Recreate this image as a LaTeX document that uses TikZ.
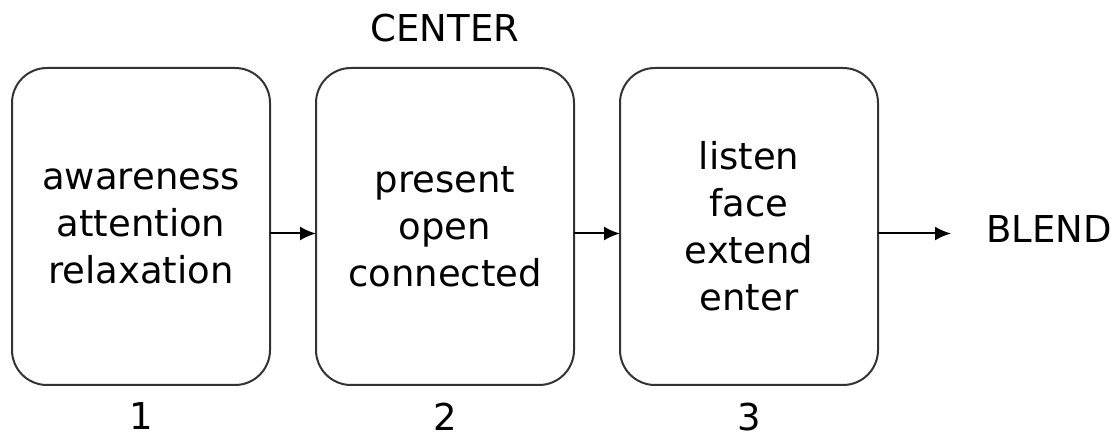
\documentclass[tikz,border=0pt]{standalone}
\usepackage{fontspec}
\setsansfont{DejaVu Sans}
\usetikzlibrary{arrows.meta,positioning}
\tikzstyle{every picture}+=[font=\sffamily]

\begin{document}
\begin{tikzpicture}
	[x=1pt, y=-1pt, font=\sffamily\fontsize{37}{47}\selectfont, inner sep=0pt, outer sep=0pt,
	stage/.style	= {draw, rectangle, rounded corners=35pt, line width=2pt, black!80, text=black, align=center, minimum width=258pt, minimum height=317pt},
	flow/.style		= {-{Latex[length=16pt,width=14pt]}, line width=2pt, black},
	caption/.style	= {text=black}]

	\useasboundingbox (0,0) rectangle (1117,438);

	\node [stage]	at (141,226.5)			(s1)	{awareness\\attention\\relaxation};
	\node [stage]	[right = 46pt of s1]	(s2)	{present\\open\\connected};
	\node [stage]	[right = 46pt of s2]	(s3)	{listen\\face\\extend\\enter};

	\node [caption]	[right = 108pt of s3, yshift=-3pt]	(blend)		{BLEND};
	\node [caption]	[above = 26pt of s2]				(center)	{CENTER};
	\node [caption]	[below = 18pt of s1]				(n1)		{1};
	\node [caption]	[below = 18pt of s2]				(n2)		{2};
	\node [caption]	[below = 18pt of s3]				(n3)		{3};

	\coordinate (tip) at ([xshift=73pt, yshift=-7pt]s3.east);

	\draw [flow] ([yshift=-7pt]s1.east) -- ([yshift=-7pt]s2.west);
	\draw [flow] ([yshift=-7pt]s2.east) -- ([yshift=-7pt]s3.west);
	\draw [flow] ([yshift=-7pt]s3.east) -- (tip);
\end{tikzpicture}
\end{document}
